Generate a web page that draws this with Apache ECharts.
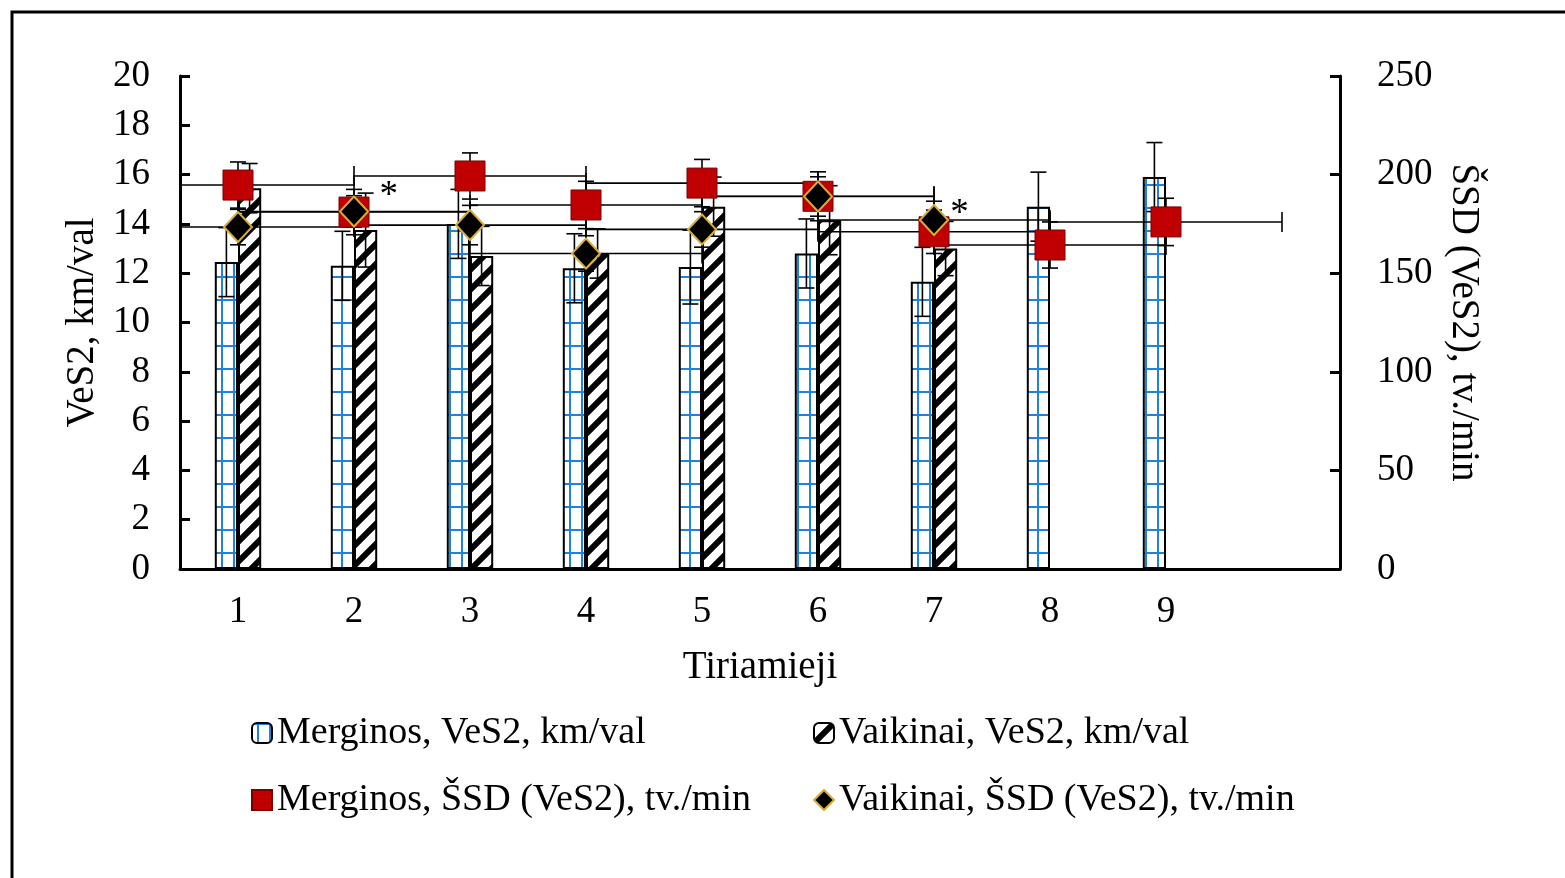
<!DOCTYPE html>
<html><head><meta charset="utf-8">
<script src="https://cdn.jsdelivr.net/npm/echarts@6/dist/echarts.min.js"></script>
<style>html,body{margin:0;padding:0;background:#fff}#c{width:1565px;height:878px}</style>
</head><body><div id="c"></div>
<script>
// ---- data ----
const categories = ['1','2','3','4','5','6','7','8','9',''];
const mergVeS2   = [12.45, 12.3, 14.0, 12.2, 12.25, 12.8, 11.65, 14.7, 15.9];
const mergVeS2Sd = [1.4, 1.4, 1.4, 1.4, 1.5, 1.4, 1.4, 1.4, 1.4];
const vaikVeS2   = [15.45, 13.75, 12.7, 12.8, 14.7, 14.15, 13.0];
const vaikVeS2Sd = [1.0, 1.5, 1.2, 1.0, 1.2, 1.4, 1.1];
const mergSSD    = [194.7, 181, 199.3, 184.6, 195.7, 189, 171, 164.3, 176];
const mergSSDSd  = [11.7, 11.5, 11.7, 12, 12, 12.4, 11, 11.7, 12];
const vaikSSD    = [173.4, 181.3, 174.4, 160, 172.2, 188.9, 177];
const vaikSSDSd  = [9, 8, 10, 9, 9, 10, 9.5];
const asteriskX  = [2.30, 7.22];
const asteriskY  = [193, 184];
const leftTicks  = {min: 0, max: 20, interval: 2};
const rightTicks = {min: 0, max: 250, interval: 50};
const names = {
  mv: 'Merginos, VeS2, km/val', vv: 'Vaikinai, VeS2, km/val',
  ms: 'Merginos, ŠSD (VeS2), tv./min', vs: 'Vaikinai, ŠSD (VeS2), tv./min'
};

const FONT = 'Liberation Serif';

function gridPattern(){
  const c = document.createElement('canvas'); c.width = 12; c.height = 23;
  const g = c.getContext('2d');
  g.fillStyle = '#fff'; g.fillRect(0,0,12,23);
  g.strokeStyle = '#1f82dc'; g.lineWidth = 2;
  g.beginPath(); g.moveTo(6,0); g.lineTo(6,23); g.moveTo(0,1); g.lineTo(12,1); g.stroke();
  return c;
}
function diagPattern(){
  const s = 20;
  const c = document.createElement('canvas'); c.width = s; c.height = s;
  const g = c.getContext('2d');
  g.fillStyle = '#fff'; g.fillRect(0,0,s,s);
  g.strokeStyle = '#000'; g.lineWidth = 6;
  g.beginPath();
  g.moveTo(-s/2, s/2); g.lineTo(s/2, -s/2);
  g.moveTo(0, s); g.lineTo(s, 0);
  g.moveTo(s/2, s*1.5); g.lineTo(s*1.5, s/2);
  g.stroke();
  return c;
}

const xs = (arr) => arr.map((v, i) => [i + 1, v]);
const withSd = (vals, sds) => vals.map((v, i) => [i + 1, v, sds[i]]);

const ERR = {stroke: '#000', lineWidth: 1.6};
const CAP = 8;

function barErr(name, vals, sds, side){
  return {
    type: 'custom', name: name + ' err', xAxisIndex: 0, yAxisIndex: 0, z: 3, silent: true,
    data: vals.map((v, i) => [i, v, sds[i]]),
    renderItem(params, api){
      const band = api.size([1, 0])[0];
      const off = side * band * 0.1;
      const x = api.value(0), y = api.value(1), sd = api.value(2);
      const t = api.coord([x, y + sd]), b = api.coord([x, y - sd]);
      const cx = t[0] + off;
      return {type: 'group', children: [
        {type: 'line', shape: {x1: cx, y1: t[1], x2: cx, y2: b[1]}, style: ERR},
        {type: 'line', shape: {x1: cx - CAP, y1: t[1], x2: cx + CAP, y2: t[1]}, style: ERR},
        {type: 'line', shape: {x1: cx - CAP, y1: b[1], x2: cx + CAP, y2: b[1]}, style: ERR}
      ]};
    }
  };
}
function pointErr(name, vals, sds){
  return {
    type: 'custom', name: name + ' err', xAxisIndex: 1, yAxisIndex: 1, z: 3, silent: true,
    data: withSd(vals, sds),
    renderItem(params, api){
      const x = api.value(0), y = api.value(1), sd = api.value(2);
      const c = api.coord([x, y]);
      const t = api.coord([x, y + sd]), b = api.coord([x, y - sd]);
      const lx = Math.max(x - 1, 0.5), rx = Math.min(x + 1, 10.5);
      const l = api.coord([lx, y]), r = api.coord([rx, y]);
      const ch = [
        {type: 'line', shape: {x1: c[0], y1: t[1], x2: c[0], y2: b[1]}, style: ERR},
        {type: 'line', shape: {x1: c[0] - CAP, y1: t[1], x2: c[0] + CAP, y2: t[1]}, style: ERR},
        {type: 'line', shape: {x1: c[0] - CAP, y1: b[1], x2: c[0] + CAP, y2: b[1]}, style: ERR},
        {type: 'line', shape: {x1: l[0], y1: l[1], x2: r[0], y2: r[1]}, style: ERR}
      ];
      if (lx === x - 1) ch.push({type: 'line', shape: {x1: l[0], y1: l[1] - 10, x2: l[0], y2: l[1] + 10}, style: ERR});
      if (rx === x + 1) ch.push({type: 'line', shape: {x1: r[0], y1: r[1] - 10, x2: r[0], y2: r[1] + 10}, style: ERR});
      return {type: 'group', children: ch};
    }
  };
}

const axisTxt = {fontFamily: FONT, fontSize: 37, color: '#000'};
const nameTxt = {fontFamily: FONT, fontSize: 39, color: '#000'};
const legendCommon = {
  orient: 'vertical', itemGap: 29, itemWidth: 20, itemHeight: 20, top: 709,
  textStyle: {fontFamily: FONT, fontSize: 38, color: '#000', lineHeight: 38}
};

const chart = echarts.init(document.getElementById('c'), null, {renderer: 'canvas'});
chart.setOption({
  backgroundColor: '#fff',
  animation: false,
  graphic: [{type: 'rect', shape: {x: 12, y: 12, width: 1620, height: 920},
    style: {fill: 'none', stroke: '#000', lineWidth: 3}, silent: true, z: 0}],
  grid: {left: 180, right: 225, top: 76, bottom: 309},
  legend: [
    Object.assign({left: 246, data: [names.mv, names.ms]}, legendCommon),
    Object.assign({left: 808, data: [names.vv, names.vs]}, legendCommon)
  ],
  xAxis: [
    {type: 'category', data: categories, gridIndex: 0,
      axisLine: {lineStyle: {color: '#000', width: 3}}, axisTick: {show: false},
      axisLabel: Object.assign({margin: 25}, axisTxt),
      name: 'Tiriamieji', nameLocation: 'middle', nameGap: 79, nameTextStyle: nameTxt},
    {type: 'value', min: 0.5, max: 10.5, show: false, gridIndex: 0}
  ],
  yAxis: [
    {type: 'value', min: leftTicks.min, max: leftTicks.max, interval: leftTicks.interval,
      axisLine: {show: true, lineStyle: {color: '#000', width: 3}},
      axisTick: {show: true, inside: true, length: 10, lineStyle: {color: '#000', width: 3}},
      splitLine: {show: false}, axisLabel: Object.assign({margin: 30}, axisTxt),
      name: 'VeS2, km/val', nameLocation: 'middle', nameGap: 77, nameRotate: 90, nameTextStyle: nameTxt},
    {type: 'value', min: rightTicks.min, max: rightTicks.max, interval: rightTicks.interval, position: 'right',
      axisLine: {show: true, lineStyle: {color: '#000', width: 3}},
      axisTick: {show: true, inside: true, length: 10, lineStyle: {color: '#000', width: 3}},
      splitLine: {show: false}, axisLabel: Object.assign({margin: 37}, axisTxt),
      name: 'ŠSD (VeS2), tv./min', nameLocation: 'middle', nameGap: 102, nameRotate: -90, nameTextStyle: nameTxt}
  ],
  series: [
    {type: 'bar', name: names.mv, data: mergVeS2, xAxisIndex: 0, yAxisIndex: 0,
      barCategoryGap: '60%', barGap: '0%', z: 2,
      itemStyle: {color: {image: gridPattern(), repeat: 'repeat'}, borderColor: '#000', borderWidth: 2}},
    {type: 'bar', name: names.vv, data: vaikVeS2, xAxisIndex: 0, yAxisIndex: 0,
      barCategoryGap: '60%', barGap: '0%', z: 2,
      itemStyle: {color: {image: diagPattern(), repeat: 'repeat'}, borderColor: '#000', borderWidth: 2}},
    barErr(names.mv, mergVeS2, mergVeS2Sd, -1),
    barErr(names.vv, vaikVeS2, vaikVeS2Sd, 1),
    pointErr(names.ms, mergSSD, mergSSDSd),
    pointErr(names.vs, vaikSSD, vaikSSDSd),
    {type: 'scatter', name: names.ms, data: xs(mergSSD), xAxisIndex: 1, yAxisIndex: 1, z: 4,
      symbol: 'rect', symbolSize: 30,
      itemStyle: {color: '#c00000', borderColor: '#7a0000', borderWidth: 1, opacity: 1}},
    {type: 'scatter', name: names.vs, data: xs(vaikSSD), xAxisIndex: 1, yAxisIndex: 1, z: 5,
      symbol: 'diamond', symbolSize: [28, 30],
      itemStyle: {color: '#000', borderColor: '#d8ad3a', borderWidth: 2, opacity: 1}},
    {type: 'custom', name: 'asterisks', xAxisIndex: 1, yAxisIndex: 1, z: 6, silent: true,
      data: asteriskX.map((x, i) => [x, asteriskY[i]]),
      renderItem(params, api){
        const p = api.coord([api.value(0), api.value(1)]);
        return {type: 'text', x: p[0], y: p[1] + 8,
          style: {text: '*', font: '37px "Liberation Serif"', fill: '#000', align: 'center', verticalAlign: 'middle'}};
      }}
  ]
});
</script></body></html>
